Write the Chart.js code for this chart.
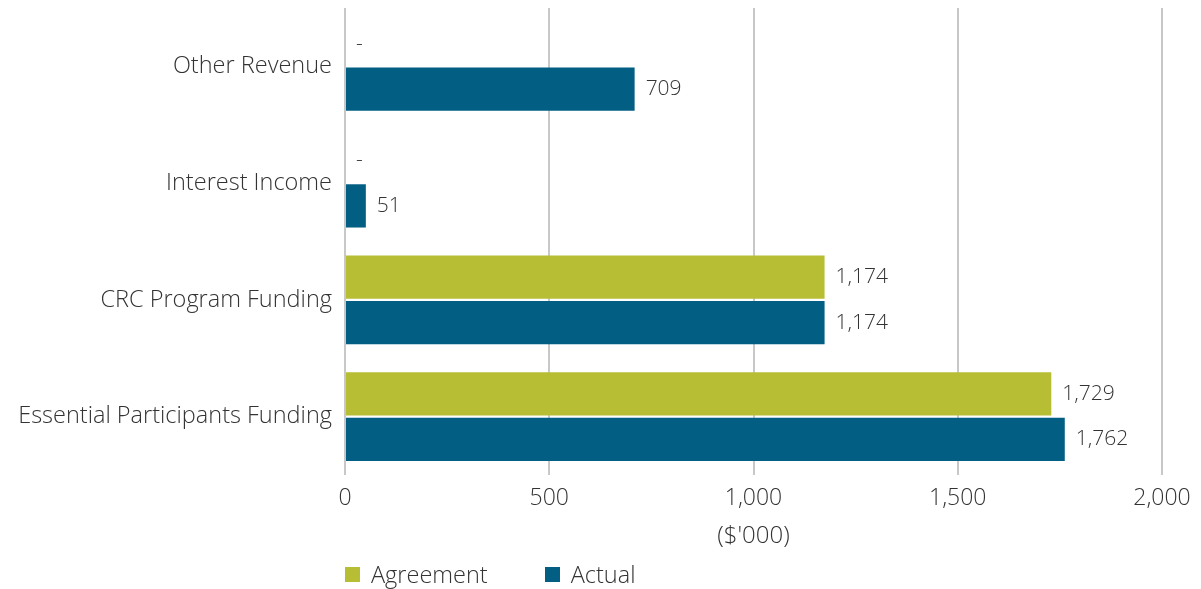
<!DOCTYPE html>
<html>
<head>
<meta charset="utf-8">
<script src="https://cdn.jsdelivr.net/npm/chart.js@4.4.1/dist/chart.umd.min.js"></script>
<style>
  html, body { margin: 0; padding: 0; background: #fff; }
  #wrap { position: relative; width: 1201px; height: 589px; }
  #legend { position: absolute; left: 345px; top: 558px; display: flex; font-family: "Open Sans", sans-serif; font-weight: 300; font-size: 23.5px; color: #333; }
  .item { display: flex; align-items: center; margin-right: 57px; }
  .box { width: 15px; height: 15px; margin-right: 11px; }
</style>
</head>
<body>
<div id="wrap">
  <canvas id="c" width="1201" height="589"></canvas>
  <div id="legend"></div>
</div>
<script>
const categories = ['Other Revenue', 'Interest Income', 'CRC Program Funding', 'Essential Participants Funding'];
const agreement = [0, 0, 1174, 1729];
const actual = [709, 51, 1174, 1762];
const xTicks = [0, 500, 1000, 1500, 2000];
const seriesNames = ['Agreement', 'Actual'];
const colors = ['#b7be34', '#025e83'];
const axisTitle = "($'000)";

const FONT = '"Open Sans", sans-serif';
const fmt = v => v === 0 ? '-' : v.toLocaleString('en-US');

const labelPlugin = {
  id: 'barLabels',
  afterDatasetsDraw(chart) {
    const ctx = chart.ctx;
    ctx.save();
    ctx.font = '300 21px ' + FONT;
    ctx.fillStyle = '#333';
    ctx.textBaseline = 'middle';
    ctx.textAlign = 'left';
    chart.data.datasets.forEach((ds, i) => {
      chart.getDatasetMeta(i).data.forEach((bar, j) => {
        const v = ds.data[j];
        ctx.fillText(fmt(v), bar.x + 11, bar.y);
      });
    });
    ctx.restore();
  }
};

new Chart(document.getElementById('c'), {
  type: 'bar',
  data: {
    labels: categories,
    datasets: [
      { label: seriesNames[0], data: agreement, backgroundColor: colors[0] },
      { label: seriesNames[1], data: actual, backgroundColor: colors[1] }
    ]
  },
  options: {
    indexAxis: 'y',
    responsive: false,
    animation: false,
    devicePixelRatio: 1,
    layout: { padding: { top: 8, right: 39, bottom: 36, left: 0 } },
    datasets: { bar: { categoryPercentage: 0.78, barPercentage: 0.95 } },
    plugins: { legend: { display: false }, tooltip: { enabled: false } },
    scales: {
      x: {
        min: 0, max: 2000,
        afterBuildTicks: s => { s.ticks = xTicks.map(v => ({ value: v })); },
        afterFit: s => { s.height = 78; s.paddingLeft = 0; s.paddingRight = 0; },
        grid: { color: '#c8c8c8', lineWidth: 2, drawTicks: false },
        border: { display: false },
        ticks: { color: '#333', font: { family: FONT, size: 23, weight: 300 }, padding: 10,
                 callback: v => v.toLocaleString('en-US') },
        title: { display: true, text: axisTitle, color: '#333', font: { family: FONT, size: 24, weight: 300 }, padding: { top: 4, bottom: 2 } }
      },
      y: {
        afterFit: s => { s.width = 345; s.paddingTop = 0; s.paddingBottom = 0; },
        grid: { display: false, drawTicks: false },
        border: { display: false },
        ticks: { color: '#333', font: { family: FONT, size: 23.5, weight: 300 }, padding: 13 }
      }
    }
  },
  plugins: [labelPlugin]
});

const legend = document.getElementById('legend');
seriesNames.forEach((n, i) => {
  const it = document.createElement('div');
  it.className = 'item';
  const b = document.createElement('div');
  b.className = 'box';
  b.style.background = colors[i];
  const t = document.createElement('span');
  t.textContent = n;
  it.appendChild(b); it.appendChild(t);
  legend.appendChild(it);
});
</script>
</body>
</html>
